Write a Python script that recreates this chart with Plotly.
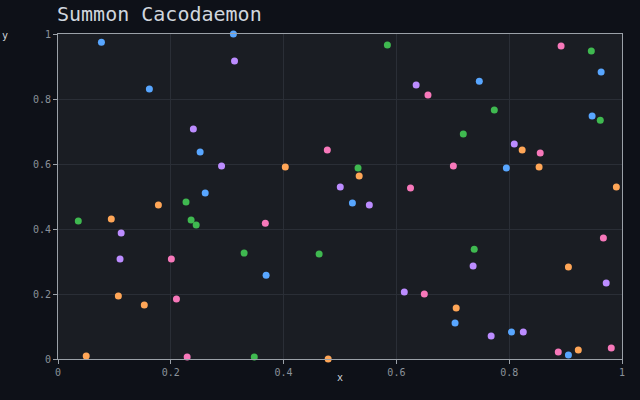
import plotly.graph_objects as go

# Series data
blue_x = [0.077, 0.311, 0.162, 0.252, 0.261, 0.522, 0.369, 0.963, 0.747, 0.947, 0.795, 0.704, 0.804, 0.905]
blue_y = [0.975, 1.000, 0.831, 0.637, 0.511, 0.480, 0.258, 0.883, 0.855, 0.748, 0.588, 0.111, 0.083, 0.012]

purple_x = [0.313, 0.240, 0.290, 0.112, 0.110, 0.635, 0.5005, 0.552, 0.614, 0.809, 0.736, 0.972, 0.768, 0.825]
purple_y = [0.917, 0.708, 0.594, 0.388, 0.308, 0.843, 0.529, 0.474, 0.206, 0.6615, 0.286, 0.234, 0.071, 0.083]

orange_x = [0.178, 0.0945, 0.107, 0.153, 0.050, 0.403, 0.534, 0.479, 0.823, 0.853, 0.990, 0.905, 0.706, 0.9225]
orange_y = [0.474, 0.431, 0.194, 0.166, 0.009, 0.591, 0.563, 0.000, 0.643, 0.591, 0.529, 0.283, 0.157, 0.028]

green_x = [0.227, 0.036, 0.236, 0.245, 0.584, 0.532, 0.330, 0.463, 0.348, 0.9456, 0.7736, 0.9615, 0.7186, 0.738]
green_y = [0.483, 0.425, 0.428, 0.412, 0.966, 0.588, 0.326, 0.323, 0.006, 0.948, 0.766, 0.735, 0.692, 0.338]

pink_x = [0.201, 0.210, 0.229, 0.656, 0.4775, 0.625, 0.3676, 0.6495, 0.892, 0.855, 0.701, 0.967, 0.887, 0.981]
pink_y = [0.308, 0.185, 0.006, 0.812, 0.643, 0.526, 0.418, 0.200, 0.963, 0.634, 0.594, 0.372, 0.0215, 0.034]

tick_vals = [0, 0.2, 0.4, 0.6, 0.8, 1]
tick_text = ["0", "0.2", "0.4", "0.6", "0.8", "1"]

series = [
    ("blue", blue_x, blue_y, "#58a6ff"),
    ("purple", purple_x, purple_y, "#bc8cff"),
    ("orange", orange_x, orange_y, "#ffa657"),
    ("green", green_x, green_y, "#3fb950"),
    ("pink", pink_x, pink_y, "#f778ba"),
]

FONT = "DejaVu Sans Mono"

fig = go.Figure()
for name, xs, ys, col in series:
    fig.add_trace(go.Scatter(
        x=xs, y=ys, mode="markers", name=name,
        marker=dict(symbol="circle", size=7, color=col, line=dict(width=0)),
        cliponaxis=False, showlegend=False,
    ))

axis_common = dict(
    range=[0, 1],
    tickvals=tick_vals,
    ticktext=tick_text,
    showgrid=True,
    gridcolor="#2a2e36",
    gridwidth=1,
    showline=True,
    linecolor="#9ba1a8",
    linewidth=1,
    mirror=True,
    ticks="outside",
    ticklen=4,
    tickcolor="#9ba1a8",
    tickfont=dict(family=FONT, size=10, color="#8b929a"),
    zeroline=False,
)

fig.update_layout(
    width=640, height=400,
    margin=dict(l=58, r=18, t=34, b=41),
    paper_bgcolor="#0e1118",
    plot_bgcolor="#1a1d23",
    title=dict(
        text="Summon Cacodaemon",
        x=57/640, xanchor="left", xref="container",
        y=1 - 14/400, yanchor="middle", yref="container",
        font=dict(family=FONT, size=20, color="#d0d6de"),
    ),
    xaxis=axis_common,
    yaxis=axis_common,
    annotations=[
        dict(text="y", xref="paper", yref="paper", x=(5 - 58) / 564, y=(359.3 - 36) / 325,
             showarrow=False, xanchor="center", yanchor="middle",
             font=dict(family=FONT, size=10, color="#d0d6de")),
        dict(text="x", xref="paper", yref="paper", x=0.5, y=(359.3 - 378) / 325,
             showarrow=False, xanchor="center", yanchor="middle",
             font=dict(family=FONT, size=10, color="#d0d6de")),
    ],
)

fig.write_html("out.html")
